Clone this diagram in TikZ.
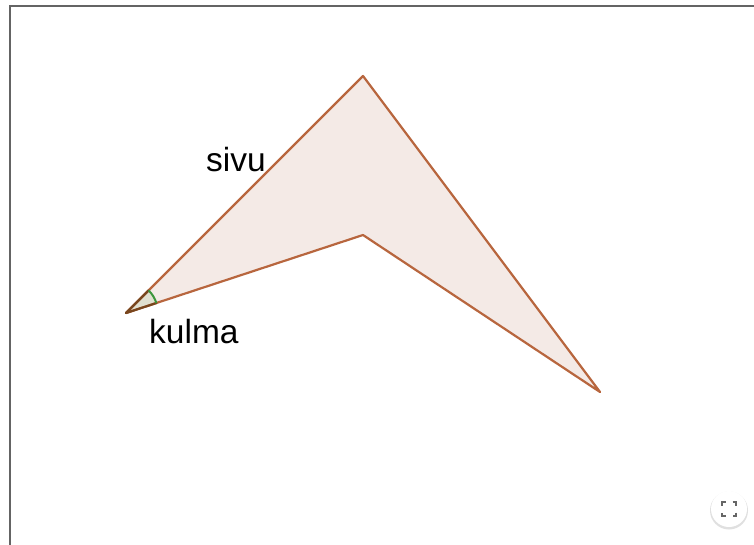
\documentclass[tikz,border=0pt]{standalone}
\usepackage{fontspec}
\setmainfont{Liberation Sans}
\begin{document}
\begin{tikzpicture}[x=1pt,y=-1pt,
  edge/.style={draw=polyc,line width=2.2pt,line join=round},
  lbl/.style={font=\fontsize{33.5}{38}\selectfont,anchor=base west,inner sep=0pt}]
\definecolor{polyc}{RGB}{184,102,62}
\definecolor{polyfill}{RGB}{244,234,230}
\definecolor{angc}{RGB}{60,150,60}
\definecolor{angfill}{RGB}{224,224,208}
\definecolor{framec}{RGB}{100,100,100}
\definecolor{darkedge}{RGB}{120,70,30}
\useasboundingbox (0,0) rectangle (754,545);
\fill[white] (0,0) rectangle (754,545);
\draw[framec,line width=1.3pt] (10,545) -- (10,6) -- (754,6);
\coordinate (A) at (126,313);
\coordinate (B) at (363,76);
\coordinate (D) at (600,392);
\coordinate (C) at (363,235);
\fill[polyfill] (A) -- (B) -- (D) -- (C) -- cycle;
% angle sector
\fill[angfill] (A) -- ++(-45:32) arc[start angle=-45,end angle=-18.2,radius=32] -- cycle;
\draw[edge] (A) -- (B) -- (D) -- (C) -- cycle;
\draw[darkedge,line width=2.2pt,line cap=round] (A) -- ++(-45:32);
\draw[darkedge,line width=2.2pt,line cap=round] (A) -- ++(-18.2:32);
\draw[angc,line width=2pt] (A) ++(-45:32) arc[start angle=-45,end angle=-18.2,radius=32];
\node[lbl] (s) at (206,172) {sivu};
\node[lbl] (k) at (149,343) {kulma};
% fullscreen button
\fill[black!12] (729,510.5) circle (19);
\fill[white] (729,509) circle (18);
\node (fs) at (729,509) {};
\begin{scope}[black!60,line width=2.2pt]
\draw (722,505.5) -- (722,502) -- (725.5,502);
\draw (732.5,502) -- (736,502) -- (736,505.5);
\draw (736,512.5) -- (736,516) -- (732.5,516);
\draw (725.5,516) -- (722,516) -- (722,512.5);
\end{scope}
\end{tikzpicture}
\end{document}
